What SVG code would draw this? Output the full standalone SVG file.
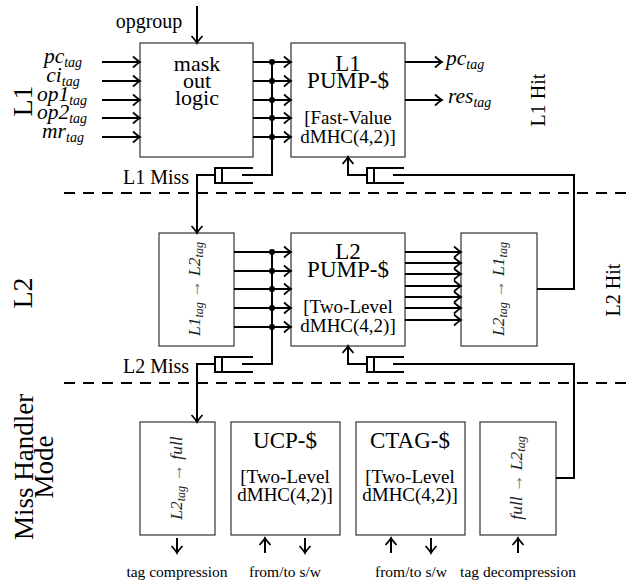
<svg xmlns="http://www.w3.org/2000/svg" width="629" height="583" viewBox="0 0 629 583" font-family="'Liberation Serif', 'Times New Roman', 'DejaVu Serif', serif">
<style>
text{font-family:'Liberation Serif','Times New Roman','DejaVu Serif',serif;fill:#000}
.t{font-size:22px;text-anchor:middle}
.b{font-size:19px;text-anchor:middle}
.s{font-size:20px}
.mi{font-size:21.5px;font-style:italic}
.big{font-size:26px;text-anchor:middle}
.sm{font-size:15.5px;text-anchor:middle}
.box{fill:#fff;stroke:#333;stroke-width:1.2}
.c{fill:none;stroke:#000;stroke-width:2}
.a{fill:none;stroke:#000;stroke-width:2;marker-end:url(#arr)}
.d{fill:none;stroke:#000;stroke-width:2;stroke-dasharray:11 8}
.rt{font-size:17.5px;font-style:italic;text-anchor:middle;fill:#222}
</style>
<defs>
<marker id="arr" viewBox="-9 -7 11 14" refX="0" refY="0" markerWidth="11" markerHeight="14" orient="auto" markerUnits="userSpaceOnUse">
<path d="M-7,-5.5 Q-2,-1 0,0 Q-2,1 -7,5.5" fill="none" stroke="#000" stroke-width="1.7"/>
</marker>
</defs>

<g id="section-lines">
<line class="d" x1="64" y1="193" x2="629" y2="193"/>
<line class="d" x1="64" y1="383" x2="629" y2="383"/>
</g>

<g id="section-labels">
<text class="big" style="font-size:28px" transform="translate(32,101) rotate(-90)">L1</text>
<text class="big" style="font-size:28px" transform="translate(32,293) rotate(-90)">L2</text>
<text class="big" style="font-size:27px" transform="translate(33,467) rotate(-90)">Miss Handler</text>
<text class="big" style="font-size:27px" transform="translate(53,467) rotate(-90)">Mode</text>
<text class="s" text-anchor="middle" transform="translate(545,100) rotate(-90)">L1 Hit</text>
<text class="s" text-anchor="middle" transform="translate(620,290) rotate(-90)">L2 Hit</text>
</g>

<g id="input-labels" class="mi" text-anchor="middle">
<text x="63" y="63">pc<tspan font-size="14" dy="4">tag</tspan></text>
<text x="63" y="82">ci<tspan font-size="14" dy="4">tag</tspan></text>
<text x="62" y="101">op1<tspan font-size="14" dy="4">tag</tspan></text>
<text x="62" y="119">op2<tspan font-size="14" dy="4">tag</tspan></text>
<text x="63" y="138">mr<tspan font-size="14" dy="4">tag</tspan></text>
</g>
<text class="s" x="149" y="28" text-anchor="middle">opgroup</text>

<g id="mask">
<rect class="box" x="140" y="43" width="113" height="114"/>
<text class="t" x="197" y="71">mask</text>
<text class="t" x="197" y="88">out</text>
<text class="t" x="197" y="105">logic</text>
</g>

<g id="l1pump">
<rect class="box" x="291" y="43" width="114" height="114"/>
<text class="t" style="font-size:23px" x="348" y="71">L1</text>
<text class="t" style="font-size:23px" x="348" y="88">PUMP-$</text>
<text class="b" x="348" y="124">[Fast-Value</text>
<text class="b" x="348" y="143">dMHC(4,2)]</text>
</g>

<g id="out-labels" class="mi">
<text x="446" y="65">pc<tspan font-size="14" dy="4">tag</tspan></text>
<text x="448" y="103">res<tspan font-size="14" dy="4">tag</tspan></text>
</g>

<g id="l1tol2">
<rect class="box" x="159" y="233" width="75" height="113"/>
<text class="rt" transform="translate(200,289) rotate(-90)">L1<tspan font-size="12" dy="3">tag</tspan><tspan dy="-3" font-style="normal" fill="#666"> → </tspan>L2<tspan font-size="12" dy="3">tag</tspan></text>
</g>

<g id="l2pump">
<rect class="box" x="291" y="233" width="114" height="113"/>
<text class="t" style="font-size:23px" x="348" y="259">L2</text>
<text class="t" style="font-size:23px" x="348" y="277">PUMP-$</text>
<text class="b" x="348" y="313">[Two-Level</text>
<text class="b" x="348" y="332">dMHC(4,2)]</text>
</g>

<g id="l2tol1">
<rect class="box" x="461" y="233" width="76" height="113"/>
<text class="rt" transform="translate(504,289) rotate(-90)">L2<tspan font-size="12" dy="3">tag</tspan><tspan dy="-3" font-style="normal" fill="#666"> → </tspan>L1<tspan font-size="12" dy="3">tag</tspan></text>
</g>

<g id="l2tofull">
<rect class="box" x="140" y="422" width="75" height="113"/>
<text class="rt" transform="translate(182,478) rotate(-90)">L2<tspan font-size="12" dy="3">tag</tspan><tspan dy="-3" font-style="normal" fill="#666"> → </tspan>full</text>
</g>

<g id="ucp">
<rect class="box" x="231" y="422" width="109" height="113"/>
<text class="t" style="font-size:23px" x="285" y="448">UCP-$</text>
<text class="b" x="285" y="483">[Two-Level</text>
<text class="b" x="285" y="501">dMHC(4,2)]</text>
</g>

<g id="ctag">
<rect class="box" x="356" y="422" width="109" height="113"/>
<text class="t" style="font-size:23px" x="410" y="448">CTAG-$</text>
<text class="b" x="410" y="483">[Two-Level</text>
<text class="b" x="410" y="501">dMHC(4,2)]</text>
</g>

<g id="fulltol2">
<rect class="box" x="480" y="422" width="76" height="113"/>
<text class="rt" transform="translate(522,478) rotate(-90)">full<tspan font-style="normal" fill="#666"> → </tspan>L2<tspan font-size="12" dy="3">tag</tspan></text>
</g>

<g id="bottom-labels" class="sm">
<text x="177" y="577">tag compression</text>
<text x="285" y="577">from/to s/w</text>
<text x="411" y="577">from/to s/w</text>
<text x="518" y="577">tag decompression</text>
</g>

<g id="connectors">
<line class="a" x1="197" y1="6" x2="197" y2="43"/>
<line class="a" x1="102" y1="62" x2="140" y2="62"/>
<line class="a" x1="102" y1="81" x2="140" y2="81"/>
<line class="a" x1="102" y1="100" x2="140" y2="100"/>
<line class="a" x1="102" y1="118" x2="140" y2="118"/>
<line class="a" x1="102" y1="137" x2="140" y2="137"/>
<line class="a" x1="253" y1="62" x2="291" y2="62"/>
<line class="a" x1="253" y1="81" x2="291" y2="81"/>
<line class="a" x1="253" y1="100" x2="291" y2="100"/>
<line class="a" x1="253" y1="118" x2="291" y2="118"/>
<line class="a" x1="253" y1="137" x2="291" y2="137"/>
<g fill="#000">
<circle cx="272" cy="62" r="3"/><circle cx="272" cy="81" r="3"/><circle cx="272" cy="100" r="3"/><circle cx="272" cy="118" r="3"/><circle cx="272" cy="137" r="3"/>
<circle cx="272" cy="252" r="3"/><circle cx="272" cy="271" r="3"/><circle cx="272" cy="289" r="3"/><circle cx="272" cy="308" r="3"/><circle cx="272" cy="327" r="3"/>
</g>
<polyline class="c" points="272,62 272,175 242,175"/>
<path class="c" d="M253,168 H215 V183 H253 M222,168 V183"/>
<text class="s" x="123" y="184">L1 Miss</text>
<polyline class="a" points="215,175 197,175 197,233"/>
<line class="a" x1="405" y1="62" x2="442" y2="62"/>
<line class="a" x1="405" y1="100" x2="442" y2="100"/>
<polyline class="c" points="537,289 574,289 574,175 393,175"/>
<path class="c" d="M404,168 H367 V183 H404 M374,168 V183"/>
<polyline class="a" points="367,175 348,175 348,157"/>

<line class="a" x1="234" y1="252" x2="291" y2="252"/>
<line class="a" x1="234" y1="271" x2="291" y2="271"/>
<line class="a" x1="234" y1="289" x2="291" y2="289"/>
<line class="a" x1="234" y1="308" x2="291" y2="308"/>
<line class="a" x1="234" y1="327" x2="291" y2="327"/>
<polyline class="c" points="272,252 272,364 242,364"/>
<path class="c" d="M253,357 H215 V372 H253 M222,357 V372"/>
<text class="s" x="123" y="373">L2 Miss</text>
<polyline class="a" points="215,364 197,364 197,422"/>

<line class="a" x1="405" y1="252" x2="461" y2="252"/>
<line class="a" x1="405" y1="263" x2="461" y2="263"/>
<line class="a" x1="405" y1="274" x2="461" y2="274"/>
<line class="a" x1="405" y1="286" x2="461" y2="286"/>
<line class="a" x1="405" y1="297" x2="461" y2="297"/>
<line class="a" x1="405" y1="308" x2="461" y2="308"/>
<line class="a" x1="405" y1="320" x2="461" y2="320"/>
<polyline class="c" points="556,478 574,478 574,364 393,364"/>
<path class="c" d="M404,357 H367 V372 H404 M374,357 V372"/>
<polyline class="a" points="367,364 348,364 348,346"/>

<line class="a" x1="177" y1="538" x2="177" y2="553"/>
<line class="a" x1="265" y1="553" x2="265" y2="538"/>
<line class="a" x1="305" y1="538" x2="305" y2="553"/>
<line class="a" x1="391" y1="553" x2="391" y2="538"/>
<line class="a" x1="431" y1="538" x2="431" y2="553"/>
<line class="a" x1="518" y1="553" x2="518" y2="538"/>
</g>
</svg>
